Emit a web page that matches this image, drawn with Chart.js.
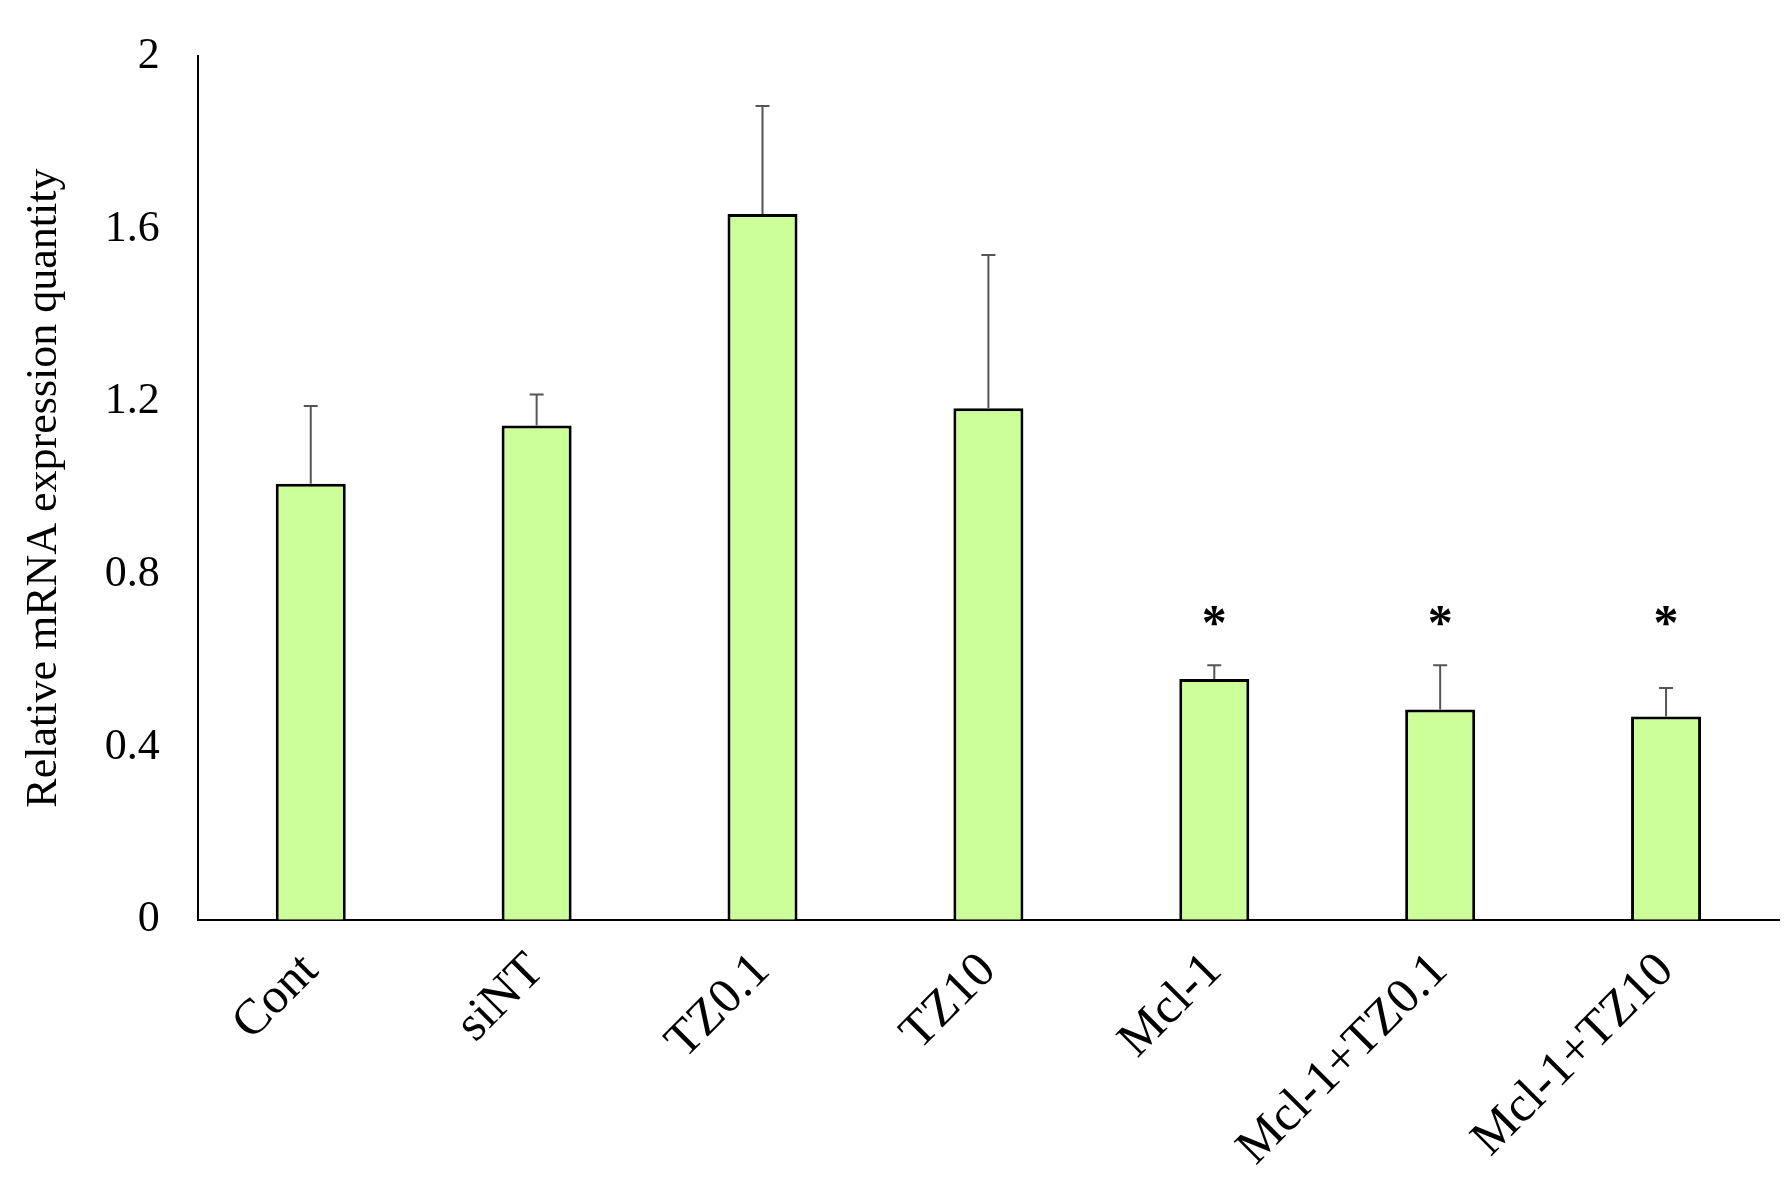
<!DOCTYPE html>
<html><head><meta charset="utf-8">
<script src="https://cdn.jsdelivr.net/npm/chart.js@4"></script>
<style>html,body{margin:0;background:#fff}#wrap{width:1787px;height:1200px}</style>
</head><body><div id="wrap"><canvas id="c"></canvas></div>
<script>
const categories = ['Cont', 'siNT', 'TZ0.1', 'TZ10', 'Mcl-1', 'Mcl-1+TZ0.1', 'Mcl-1+TZ10'];
const means = [1.01, 1.145, 1.635, 1.185, 0.558, 0.487, 0.471];
const errors = [0.18, 0.072, 0.25, 0.355, 0.032, 0.103, 0.066];
const stars = [false, false, false, false, true, true, true];
const starLevel = 0.7;
const yTicks = [0, 0.4, 0.8, 1.2, 1.6, 2];

const FONT = '"Liberation Serif", "DejaVu Serif", serif';

const errorBars = {
    id: 'errorBars',
    afterDatasetsDraw: function (chart) {
        const ctx = chart.ctx;
        const y = chart.scales.y;
        const meta = chart.getDatasetMeta(0);
        ctx.save();
        ctx.strokeStyle = '#555';
        ctx.lineWidth = 2;
        meta.data.forEach(function (bar, i) {
            const top = y.getPixelForValue(means[i]);
            const hi = y.getPixelForValue(means[i] + errors[i]);
            ctx.beginPath();
            ctx.moveTo(bar.x, top);
            ctx.lineTo(bar.x, hi);
            ctx.moveTo(bar.x - 7, hi);
            ctx.lineTo(bar.x + 7, hi);
            ctx.stroke();
            if (stars[i]) {
                ctx.fillStyle = '#000';
                ctx.font = 'bold 50px ' + FONT;
                ctx.textAlign = 'center';
                ctx.textBaseline = 'middle';
                ctx.fillText('*', bar.x, y.getPixelForValue(starLevel) + 8);
            }
        });
        ctx.restore();
    }
};

new Chart(document.getElementById('c'), {
    type: 'bar',
    data: {
        labels: categories,
        datasets: [{
            data: means,
            backgroundColor: '#ccff99',
            borderColor: '#000',
            borderWidth: 3,
            categoryPercentage: 1,
            barPercentage: 0.31
        }]
    },
    options: {
        responsive: true,
        maintainAspectRatio: false,
        animation: false,
        layout: { padding: { top: 24, right: 8, left: 14, bottom: 8 } },
        plugins: { legend: { display: false }, tooltip: { enabled: false } },
        scales: {
            x: {
                grid: { display: false },
                border: { color: '#000', width: 2 },
                ticks: { color: '#000', font: { family: FONT, size: 50 }, minRotation: 45, maxRotation: 45, padding: 14 }
            },
            y: {
                min: 0, max: 2,
                afterBuildTicks: function (axis) { axis.ticks = yTicks.map(function (v) { return { value: v }; }); },
                grid: { display: false },
                border: { color: '#000', width: 2 },
                ticks: { color: '#000', font: { family: FONT, size: 44 }, padding: 30, callback: function (v) { return String(v); } },
                title: { display: true, text: 'Relative mRNA expression quantity', color: '#000', font: { family: FONT, size: 44 } }
            }
        }
    },
    plugins: [errorBars]
});
</script>
</body></html>
